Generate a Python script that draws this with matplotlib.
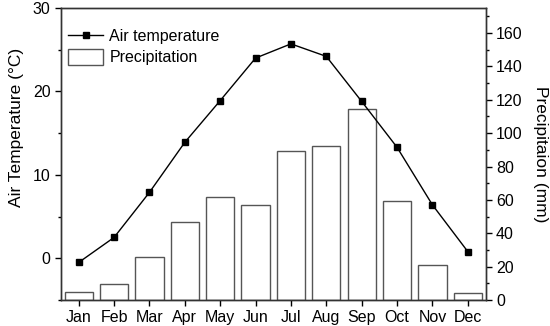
import numpy as np
import matplotlib
matplotlib.use("Agg")
import matplotlib.pyplot as plt
from matplotlib.ticker import MultipleLocator

plt.rcParams['font.family'] = ['Liberation Sans', 'DejaVu Sans']

# monthly data
months = ["Jan", "Feb", "Mar", "Apr", "May", "Jun",
          "Jul", "Aug", "Sep", "Oct", "Nov", "Dec"]
air_temp = [-0.5, 2.5, 7.9, 13.9, 18.9, 24.0, 25.7, 24.2, 18.8, 13.3, 6.4, 0.8]
precip = [5.0, 9.8, 25.8, 46.5, 62.0, 57.2, 89.2, 92.2, 114.7, 59.2, 20.7, 4.0]

x = np.arange(len(months))

fig = plt.figure(figsize=(5.5, 3.26), dpi=100)
ax = fig.add_axes([61 / 550, 1 - 300 / 326, (485.5 - 61) / 550, (300 - 8) / 326])
ax2 = ax.twinx()

# precipitation bars on the right axis
bars = ax2.bar(x, precip, width=0.8, color="white", edgecolor="#555555",
               linewidth=1.0, label="Precipitation", zorder=1)
ax2.set_ylim(0, 175)
ax2.yaxis.set_major_locator(MultipleLocator(20))
ax2.yaxis.set_minor_locator(MultipleLocator(10))
ax2.set_ylabel("Precipitaion (mm)", fontsize=12.5, rotation=270, labelpad=18)

# temperature line on the left axis, drawn above the bars
ax.set_zorder(ax2.get_zorder() + 1)
ax.patch.set_visible(False)
line, = ax.plot(x, air_temp, color="black", linewidth=1.0, marker="s",
                markersize=5, label="Air temperature")
ax.set_ylim(-5, 30)
ax.yaxis.set_major_locator(MultipleLocator(10))
ax.yaxis.set_minor_locator(MultipleLocator(5))
ax.set_ylabel("Air Temperature (\u00b0C)", fontsize=12.5)
ax.yaxis.set_label_coords(-0.088, 0.59)

ax.set_xlim(-0.5, 11.5)
ax.set_xticks(x)
ax.set_xticklabels(months)

for a in (ax, ax2):
    a.tick_params(which="both", direction="out", labelsize=11.5, width=1.0)
    a.tick_params(which="major", length=4)
    a.tick_params(which="minor", length=2.5)
    for s in a.spines.values():
        s.set_linewidth(1.0)
        s.set_color("#333333")

ax.legend([line, bars], ["Air temperature", "Precipitation"], loc="upper left",
          frameon=False, fontsize=11.5, handlelength=2.2, handleheight=1.15,
          handletextpad=0.4, borderaxespad=0.3, labelspacing=0.3,
          bbox_to_anchor=(-0.01, 0.97))

fig.savefig("out.png", dpi=100)
